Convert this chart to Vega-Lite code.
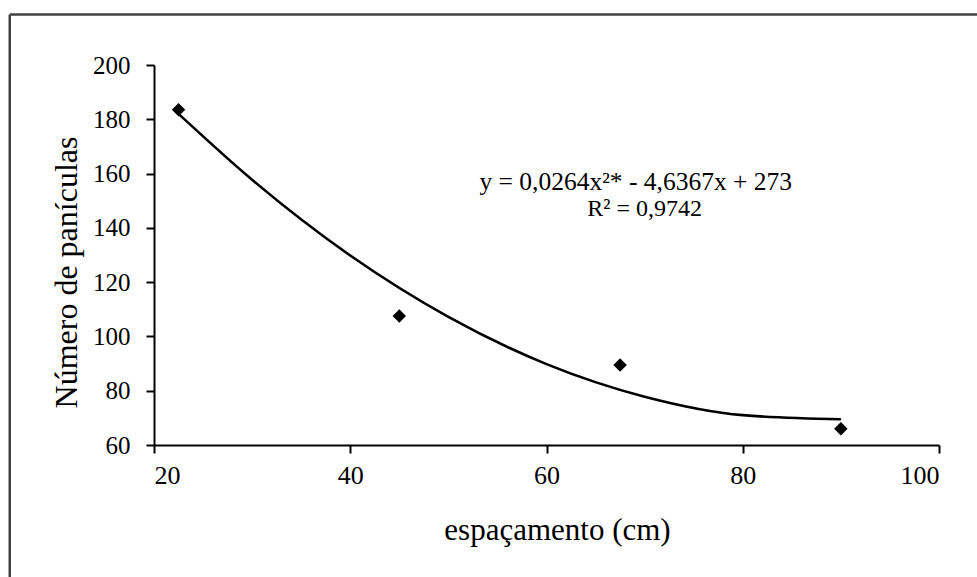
{
  "$schema": "https://vega.github.io/schema/vega-lite/v6.json",
  "autosize": "none",
  "width": 785,
  "height": 380,
  "padding": {"left": 154, "top": 65, "right": 38, "bottom": 132},
  "background": "white",
  "config": {
    "view": {"stroke": null},
    "font": "Liberation Serif",
    "axis": {"grid": false, "domainColor": "black", "domainWidth": 2, "tickColor": "black", "tickWidth": 2, "tickSize": 8, "labelColor": "black", "titleColor": "black", "labelFont": "Liberation Serif", "titleFont": "Liberation Serif", "titleFontWeight": "normal"}
  },
  "datasets": {
    "obs": [
      {"espacamento": 22.5, "paniculas": 183.5},
      {"espacamento": 45, "paniculas": 107.5},
      {"espacamento": 67.5, "paniculas": 89.5},
      {"espacamento": 90, "paniculas": 66}
    ],
    "trend": [
      {"espacamento": 22.5, "paniculas": 182},
      {"espacamento": 30, "paniculas": 157.7},
      {"espacamento": 40, "paniculas": 129.8},
      {"espacamento": 50, "paniculas": 107.2},
      {"espacamento": 60, "paniculas": 89.8},
      {"espacamento": 70, "paniculas": 77.8},
      {"espacamento": 80, "paniculas": 71},
      {"espacamento": 90, "paniculas": 69.5}
    ]
  },
  "layer": [
    {
      "data": {"name": "trend"},
      "mark": {"type": "line", "color": "black", "strokeWidth": 2.6, "interpolate": "monotone"},
      "encoding": {
        "x": {"field": "espacamento", "type": "quantitative",
          "scale": {"domain": [20, 100], "nice": false, "zero": false},
          "axis": {"values": [20, 40, 60, 80, 100], "labelFont": "Liberation Serif", "labelFontSize": 26, "labelPadding": 9, "title": "espaçamento (cm)", "titleFontSize": 31, "titleX": 403, "titleY": 94, "titleBaseline": "alphabetic", "titleAnchor": null}},
        "y": {"field": "paniculas", "type": "quantitative",
          "scale": {"domain": [60, 200], "nice": false, "zero": false},
          "axis": {"values": [60, 80, 100, 120, 140, 160, 180, 200], "labelFont": "Liberation Serif", "labelFontSize": 25, "labelPadding": 16, "title": "Número de panículas", "titleFontSize": 32, "titleAngle": 270, "titleX": -88, "titleY": 207, "titleBaseline": "middle", "titleAlign": "center"}}
      }
    },
    {
      "data": {"name": "obs"},
      "mark": {"type": "point", "shape": "diamond", "filled": true, "color": "black", "size": 180, "opacity": 1},
      "encoding": {
        "x": {"field": "espacamento", "type": "quantitative"},
        "y": {"field": "paniculas", "type": "quantitative"}
      }
    },
    {
      "data": {"values": [{}]},
      "mark": {"type": "text", "text": "y = 0,0264x²* - 4,6367x + 273", "font": "Liberation Serif", "fontSize": 25.5, "color": "black", "align": "center", "baseline": "alphabetic"},
      "encoding": {"x": {"datum": 69.1}, "y": {"datum": 154}}
    },
    {
      "data": {"values": [{}]},
      "mark": {"type": "text", "text": "R² = 0,9742", "font": "Liberation Serif", "fontSize": 24, "color": "black", "align": "center", "baseline": "alphabetic"},
      "encoding": {"x": {"datum": 70}, "y": {"datum": 144.5}}
    },
    {
      "data": {"values": [{}]},
      "mark": {"type": "rule", "color": "#404040", "strokeWidth": 2.5, "clip": false},
      "encoding": {"x": {"datum": 5.3}, "x2": {"datum": 110}, "y": {"datum": 218.6}}
    },
    {
      "data": {"values": [{}]},
      "mark": {"type": "rule", "color": "#404040", "strokeWidth": 2.5, "clip": false},
      "encoding": {"x": {"datum": 5.3}, "y": {"datum": 218.6}, "y2": {"datum": 0}}
    }
  ]
}
